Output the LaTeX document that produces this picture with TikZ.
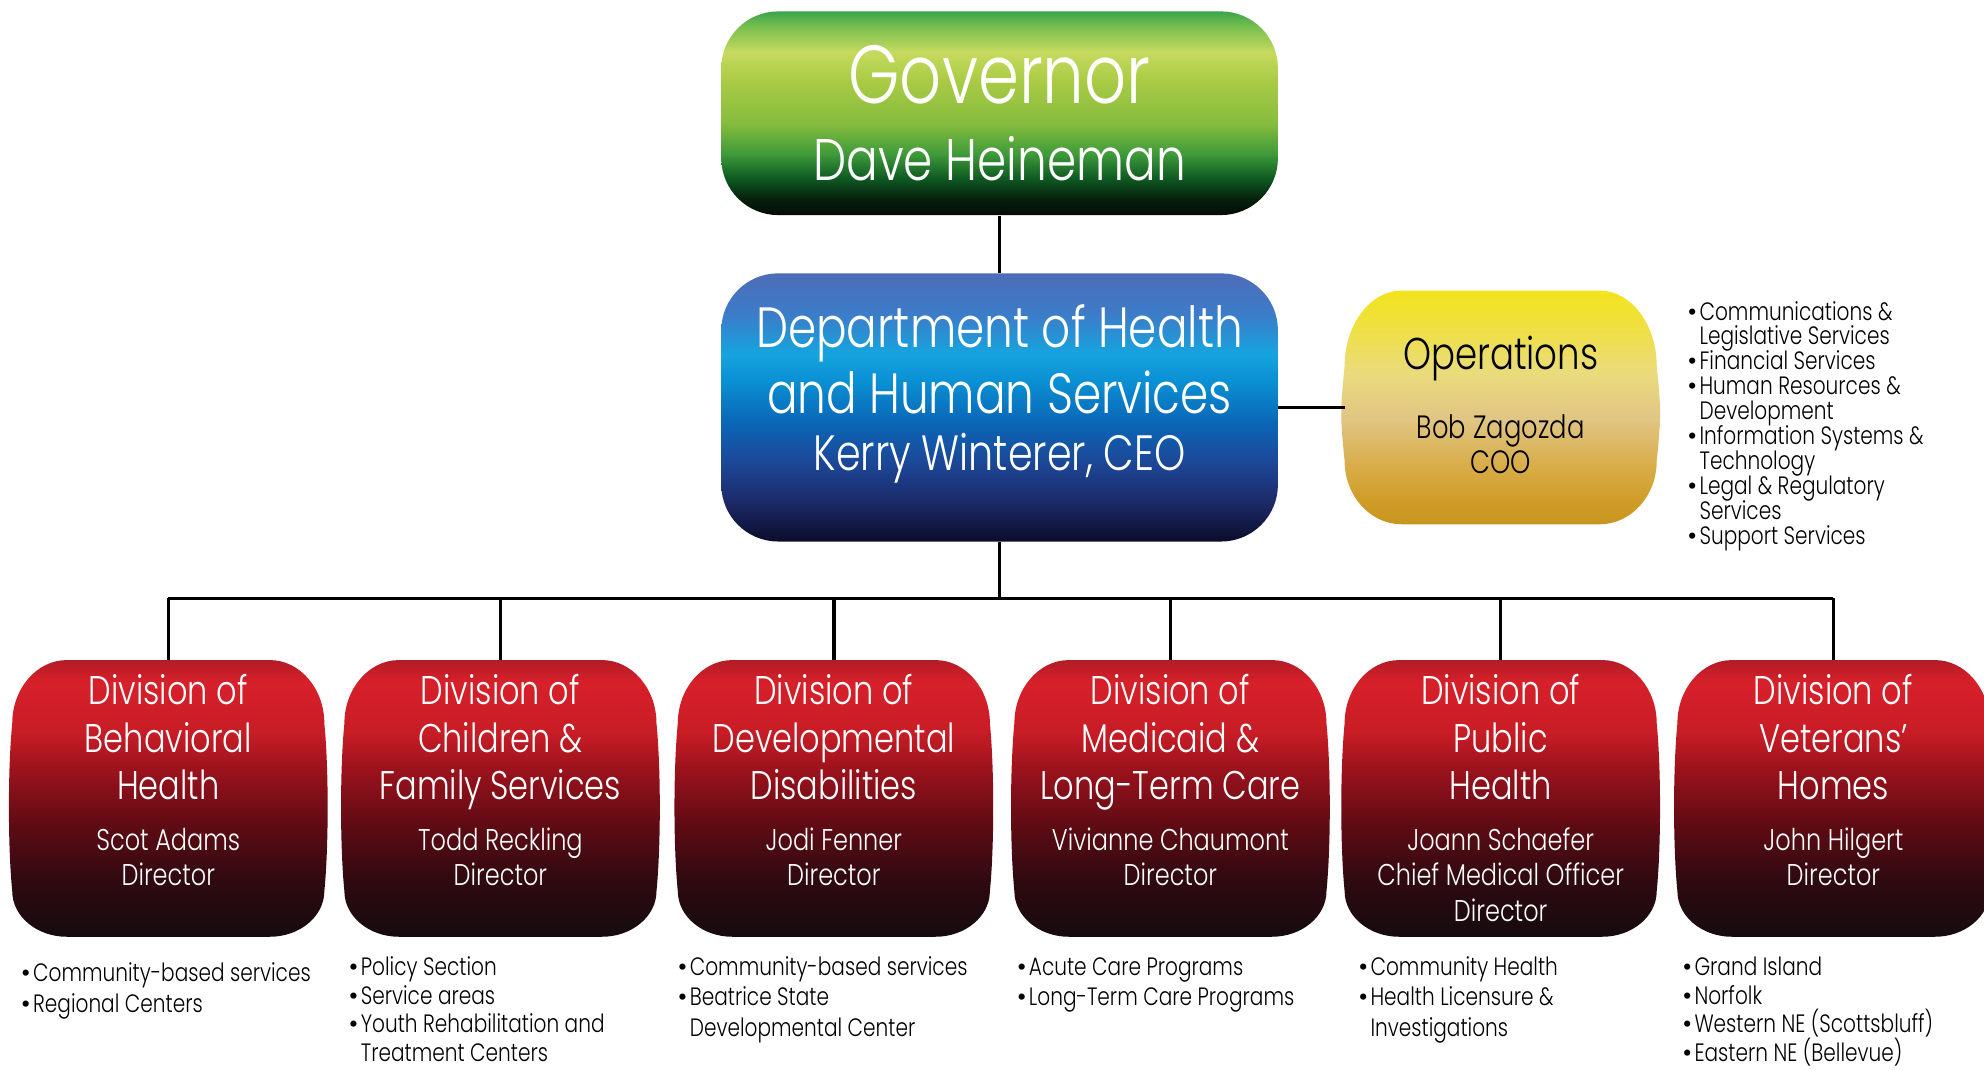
\documentclass[tikz,border=0pt]{standalone}
\usepackage{fontspec}
\setmainfont{Poppins Light}[FakeStretch=0.8]
\newfontfamily\bulfont{Poppins}
\usetikzlibrary{calc}

% colours of the boxes
\definecolor{grn0}{HTML}{3AA54A}
\definecolor{grn1}{HTML}{7CC050}
\definecolor{grn2}{HTML}{C6DA5E}
\definecolor{grn3}{HTML}{A8CA44}
\definecolor{grn4}{HTML}{86BC3E}
\definecolor{grn5}{HTML}{3E9A3A}
\definecolor{grn6}{HTML}{0E5A22}
\definecolor{grn7}{HTML}{06200C}
\definecolor{grn8}{HTML}{040C06}
\definecolor{blu0}{HTML}{4E6CB8}
\definecolor{blu1}{HTML}{3C7CC8}
\definecolor{blu2}{HTML}{16A4DE}
\definecolor{blu3}{HTML}{0A90D4}
\definecolor{blu4}{HTML}{0A68B8}
\definecolor{blu5}{HTML}{1C4898}
\definecolor{blu6}{HTML}{1C2A6A}
\definecolor{blu7}{HTML}{0C0C2A}
\definecolor{yel0}{HTML}{F2E41C}
\definecolor{yel1}{HTML}{EFE040}
\definecolor{yel2}{HTML}{EADB7C}
\definecolor{yel3}{HTML}{E0C584}
\definecolor{yel4}{HTML}{D8AD48}
\definecolor{yel5}{HTML}{D09C28}
\definecolor{yel6}{HTML}{C8951E}
\definecolor{redtop}{HTML}{B21C26}
\definecolor{red0}{HTML}{D7202A}
\definecolor{red1}{HTML}{C81D26}
\definecolor{red2}{HTML}{9A121C}
\definecolor{red3}{HTML}{5E0B14}
\definecolor{red4}{HTML}{2E0A10}
\definecolor{red5}{HTML}{150B0F}

% 25bp = bottom of the box, 75bp = top of the box
\pgfdeclareverticalshading{govshade}{100bp}{color(0bp)=(grn8); color(25bp)=(grn8);
  color(29bp)=(grn7); color(34bp)=(grn6); color(40bp)=(grn5); color(47.5bp)=(grn4);
  color(57.5bp)=(grn3); color(65bp)=(grn2); color(71bp)=(grn1); color(75bp)=(grn0); color(100bp)=(grn0)}
\pgfdeclareverticalshading{deptshade}{100bp}{color(0bp)=(blu7); color(25bp)=(blu7);
  color(32.5bp)=(blu6); color(40bp)=(blu5); color(47.5bp)=(blu4); color(55bp)=(blu3);
  color(60bp)=(blu2); color(67.5bp)=(blu1); color(75bp)=(blu0); color(100bp)=(blu0)}
\pgfdeclareverticalshading{opsshade}{100bp}{color(0bp)=(yel6); color(25bp)=(yel6);
  color(30bp)=(yel5); color(37.5bp)=(yel4); color(47.5bp)=(yel3); color(57.5bp)=(yel2);
  color(67.5bp)=(yel1); color(75bp)=(yel0); color(100bp)=(yel0)}
\pgfdeclareverticalshading{divshade}{100bp}{color(0bp)=(red5); color(25bp)=(red5);
  color(35bp)=(red4); color(45bp)=(red3); color(55bp)=(red2); color(62bp)=(red1);
  color(71bp)=(red0); color(75bp)=(redtop); color(100bp)=(redtop)}

% box with round corners and slightly bulging sides, drawn round a node
% #1 node, #2 shading, #3 corner width, #4 top corner height, #5 bottom corner height
\newcommand{\roundbulge}[5]{%
  \path[shading=#2] let \p1=(#1.north west), \p2=(#1.south east) in
    (\x1+#3,\y1) -- (\x2-#3,\y1)
    .. controls (\x2-0.45*#3,\y1) and (\x2,\y1-0.45*#4) .. (\x2,\y1-#4)
    .. controls (\x2+2pt,\y1-#4-20pt) and (\x2+2pt,\y2+#5+20pt) .. (\x2,\y2+#5)
    .. controls (\x2,\y2+0.45*#5) and (\x2-0.45*#3,\y2) .. (\x2-#3,\y2)
    -- (\x1+#3,\y2)
    .. controls (\x1+0.45*#3,\y2) and (\x1,\y2+0.45*#5) .. (\x1,\y2+#5)
    .. controls (\x1-2pt,\y2+#5+20pt) and (\x1-2pt,\y1-#4-20pt) .. (\x1,\y1-#4)
    .. controls (\x1,\y1-0.45*#4) and (\x1+0.45*#3,\y1) .. cycle;}

\newcommand{\bul}{\makebox[5.6pt][l]{\bulfont\textbullet}}
\newcommand{\ind}{\makebox[5.6pt]{}}
\newcommand{\tightlines}{\lineskiplimit=-20pt\relax}

\begin{document}
\begin{tikzpicture}[x=0.02cm, y=-0.02cm,
    conn/.style={line width=1.6pt, black},
    topbox/.style={inner sep=0pt, minimum width=8.8cm, rounded corners=0.9cm},
    divbox/.style={inner sep=0pt, minimum width=4.92cm, minimum height=4.36cm},
    wtxt/.style={text=white, inner sep=0pt, anchor=base, align=center},
    btxt/.style={text=black, inner sep=0pt, anchor=base, align=center},
    divtitle/.style={wtxt, font=\fontsize{18}{21.3}\selectfont},
    divname/.style={wtxt, font=\fontsize{13.5}{15.9}\selectfont},
    listtxt/.style={inner sep=0pt, anchor=base west, align=left,
      font=\fontsize{11.3}{13.7}\selectfont}]
  \useasboundingbox[fill=white] (0,0) rectangle (1568,845);
  % multi-line nodes sit on the baseline of their last line

  % Governor
  \node[topbox, minimum height=3.22cm, shading=govshade] (gov) at (790,89.5) {};
  \node[wtxt, font=\fontsize{37}{40}\selectfont] (gov-title) at (790,82) {Governor};
  \node[wtxt, font=\fontsize{26.4}{30}\selectfont] (gov-name) at (790,143) {Dave Heineman};

  % Department
  \node[topbox, minimum height=4.24cm, shading=deptshade] (dhhs) at (790,322) {};
  \node[wtxt, font=\fontsize{25.5}{29.6}\selectfont] (dhhs-title) at (790,327)
    {Department of Health\\and Human Services};
  \node[wtxt, font=\fontsize{22.3}{25}\selectfont] (dhhs-name) at (790,372) {Kerry Winterer, CEO};

  % Operations
  \node[divbox, minimum height=3.68cm] (ops) at (1186,322) {};
  \roundbulge{ops}{opsshade}{25.6pt}{34pt}{28.5pt}
  \node[btxt, font=\fontsize{20}{22}\selectfont] (ops-title) at (1186,292) {Operations};
  \node[btxt, font=\fontsize{14.5}{15.4}\selectfont] (ops-name) at (1186,374) {Bob Zagozda\\COO};
  \node[listtxt, font=\fontsize{11.3}{11.2}\selectfont\tightlines] (ops-list) at (1333,430)
    {\bul Communications \&\\\ind Legislative Services\\\bul Financial Services\\
     \bul Human Resources \&\\\ind Development\\\bul Information Systems \&\\
     \ind Technology\\\bul Legal \& Regulatory\\\ind Services\\\bul Support Services};

  % Divisions
  \foreach \i/\cx in {1/133, 2/395.5, 3/659, 4/925, 5/1186, 6/1449}{
    \node[divbox] (div\i) at (\cx,631) {};
    \roundbulge{div\i}{divshade}{24.5pt}{28.5pt}{20.5pt}
  }

  \node[divtitle] (div1-title) at (133,632) {Division of\\Behavioral\\Health};
  \node[divname] (div1-name) at (133,700) {Scot Adams\\Director};
  \node[listtxt] (div1-list) at (16,800) {\bul Community-based services\\\bul Regional Centers};

  \node[divtitle] (div2-title) at (395.5,632) {Division of\\Children \&\\Family Services};
  \node[divname] (div2-name) at (395.5,700) {Todd Reckling\\Director};
  \node[listtxt, font=\fontsize{11.3}{12.9}\selectfont] (div2-list) at (275,839)
    {\bul Policy Section\\\bul Service areas\\\bul Youth Rehabilitation and\\\ind Treatment Centers};

  \node[divtitle] (div3-title) at (659,632) {Division of\\Developmental\\Disabilities};
  \node[divname] (div3-name) at (659,700) {Jodi Fenner\\Director};
  \node[listtxt] (div3-list) at (535,819)
    {\bul Community-based services\\\bul Beatrice State\\\ind Developmental Center};

  \node[divtitle] (div4-title) at (925,632) {Division of\\Medicaid \&\\Long-Term Care};
  \node[divname] (div4-name) at (925,700) {Vivianne Chaumont\\Director};
  \node[listtxt] (div4-list) at (803,795) {\bul Acute Care Programs\\\bul Long-Term Care Programs};

  \node[divtitle] (div5-title) at (1186,632) {Division of\\Public\\Health};
  \node[divname] (div5-name) at (1186,728) {Joann Schaefer\\Chief Medical Officer\\Director};
  \node[listtxt] (div5-list) at (1073,819)
    {\bul Community Health\\\bul Health Licensure \&\\\ind Investigations};

  \node[divtitle] (div6-title) at (1449,632) {Division of\\Veterans’\\Homes};
  \node[divname] (div6-name) at (1449,700) {John Hilgert\\Director};
  \node[listtxt, font=\fontsize{11.3}{12.9}\selectfont] (div6-list) at (1329,839)
    {\bul Grand Island\\\bul Norfolk\\\bul Western NE (Scottsbluff)\\\bul Eastern NE (Bellevue)};

  % connectors
  \coordinate (bus) at (790,473);
  \draw[conn] (gov.south) -- (dhhs.north);
  \draw[conn] (dhhs.east) -- (ops.west);
  \draw[conn] (dhhs.south) -- (bus);
  \draw[conn] (bus -| div1.north) -- (bus -| div6.north);
  \foreach \i in {1,...,6}
    \draw[conn] (bus -| div\i.north) -- (div\i.north);
\end{tikzpicture}
\end{document}
